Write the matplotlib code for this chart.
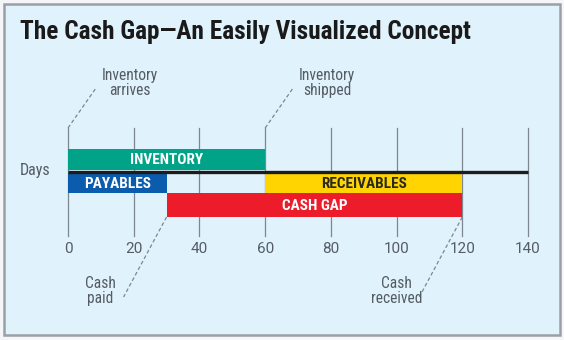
import matplotlib
matplotlib.use("Agg")
import matplotlib.pyplot as plt
import matplotlib.patches as patches

# bar segments (days)
segments = ["INVENTORY", "PAYABLES", "RECEIVABLES", "CASH GAP"]
seg_start = [0, 0, 60, 30]
seg_end = [60, 30, 120, 120]
seg_colors = ["#00a387", "#0b5cad", "#ffd400", "#ec1c2b"]
seg_text = ["white", "white", "#2a2a1a", "white"]
seg_row = [0, 1, 1, 2]  # 0 above the day line, 1 just below, 2 lower

ticks = [0, 20, 40, 60, 80, 100, 120, 140]
days_end = 140

# event callouts
top_events = ["Inventory\narrives", "Inventory\nshipped"]
top_days = [0, 60]
bottom_events = ["Cash\npaid", "Cash\nreceived"]
bottom_days = [30, 120]

FONT = "Roboto Condensed"
GREY = "#555c63"

W, H = 564, 340
fig = plt.figure(figsize=(W / 100, H / 100), dpi=100)
fig.patch.set_facecolor("#f4f6f7")
ax = fig.add_axes([0, 0, 1, 1])
ax.set_axis_off()

# x in days, y in pixels from top
k = 460 / 140
x0 = 68
ax.set_xlim(-x0 / k, (W - x0) / k)
ax.set_ylim(H, 0)

def px(p):
    return p / k

# panel
ax.add_patch(patches.Rectangle((px(-x0 + 4), 3.5), px(556), 331, facecolor="#e0f2fc",
                               edgecolor="#9aa0a6", linewidth=1.8, zorder=0))

ax.text(px(-x0 + 20), 39, "The Cash Gap\u2014An Easily Visualized Concept",
        fontsize=18.3, fontweight="bold", family=FONT,
        color="#1a1a1a", va="baseline", ha="left")

# grid lines
for t in ticks:
    ax.plot([t, t], [128, 236], color="#7d8790", linewidth=0.9, zorder=1)
    ax.text(t, 249, str(t), ha="center", va="center", fontsize=11,
            color=GREY, family="Roboto")

ax.text(px(-x0 + 35), 170, "Days", ha="center", va="center", fontsize=11.5,
        color=GREY, family=FONT)

row_top = [149, 173, 193]
row_h = [21, 20, 24]
for name, s, e, c, tc, r in zip(segments, seg_start, seg_end, seg_colors, seg_text, seg_row):
    ax.barh(row_top[r] + row_h[r] / 2, e - s, left=s, height=row_h[r], color=c, zorder=2)
    ax.text((s + e) / 2, row_top[r] + row_h[r] / 2 + 0.5, name, ha="center", va="center",
            fontsize=11, fontweight="bold", color=tc, family=FONT, zorder=4)

# day line
ax.plot([0, days_end], [172, 172], color="#1c1c1c", linewidth=2.4, zorder=3,
        solid_capstyle="butt")

# callouts
for lab, d in zip(top_events, top_days):
    ax.plot([d, d + px(28)], [128, 88], color="#7d8790", linewidth=0.9,
            linestyle=(0, (3, 2)), zorder=1)
    ax.text(d + px(62), 83, lab, ha="center", va="center", fontsize=11.2,
            color=GREY, family=FONT, linespacing=1.0)

for lab, d in zip(bottom_events, bottom_days):
    ax.plot([d, d - px(43)], [217, 297], color="#7d8790", linewidth=0.9,
            linestyle=(0, (3, 2)), zorder=1)
    ax.text(d - px(66), 291, lab, ha="center", va="center", fontsize=11.2,
            color=GREY, family=FONT, linespacing=1.0)

fig.savefig("out.png", dpi=100, facecolor=fig.get_facecolor())
